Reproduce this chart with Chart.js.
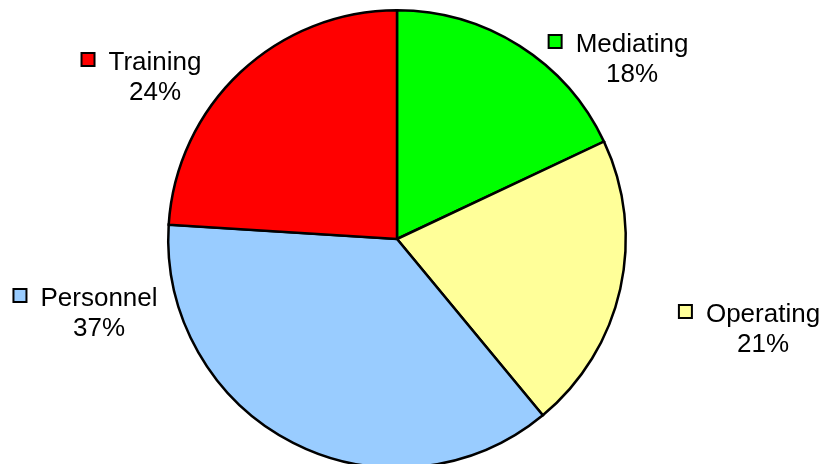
<!DOCTYPE html>
<html>
<head>
<meta charset="utf-8">
<script src="https://cdn.jsdelivr.net/npm/chart.js@4/dist/chart.umd.min.js"></script>
<style>
  html, body { margin: 0; padding: 0; background: #fff; overflow: hidden; }
  #wrap { width: 824px; height: 464px; overflow: hidden; }
</style>
</head>
<body>
<div id="wrap"><canvas id="pie" width="824" height="480"></canvas></div>
<script>
// data
var categories = ["Mediating", "Operating", "Personnel", "Training"];
var shares = [18, 21, 37, 24];
var sliceColors = ["#00FF00", "#FFFF99", "#99CCFF", "#FF0000"];

// where each label sits, relative to the pie centre (name baseline, centred on the name)
var labelOffsets = [[235, -187], [366, 83], [-298, 67], [-242, -169]];

var total = shares.reduce(function (a, b) { return a + b; }, 0);

var pieLabels = {
  id: "pieLabels",
  afterDatasetsDraw: function (chart) {
    var ctx = chart.ctx;
    var meta = chart.getDatasetMeta(0);
    ctx.save();
    ctx.font = "26px 'Liberation Sans', Arial, sans-serif";
    ctx.textAlign = "center";
    ctx.textBaseline = "alphabetic";
    meta.data.forEach(function (arc, i) {
      var off = labelOffsets[i];
      var x = arc.x + off[0];
      var y = arc.y + off[1];
      var name = categories[i];
      var w = ctx.measureText(name).width;
      ctx.fillStyle = "#000";
      ctx.fillText(name, x, y);
      ctx.fillText(Math.round(shares[i] / total * 100) + "%", x, y + 30);
      // little colour key in front of the name
      var sx = x - w / 2 - 27;
      var sy = y - 17;
      ctx.fillStyle = sliceColors[i];
      ctx.fillRect(sx, sy, 13, 13);
      ctx.lineWidth = 2;
      ctx.strokeStyle = "#000";
      ctx.strokeRect(sx, sy, 13, 13);
    });
    ctx.restore();
  }
};

var pieChart = new Chart("pie", {
  type: "pie",
  data: {
    labels: categories,
    datasets: [{
      data: shares,
      backgroundColor: sliceColors,
      borderColor: "#000",
      borderWidth: 2.5,
      borderJoinStyle: "miter"
    }]
  },
  options: {
    responsive: false,
    animation: false,
    layout: { padding: { left: 167, right: 197, top: 9, bottom: 11 } },
    plugins: {
      legend: { display: false },
      tooltip: { enabled: false }
    }
  },
  plugins: [pieLabels]
});
</script>
</body>
</html>
